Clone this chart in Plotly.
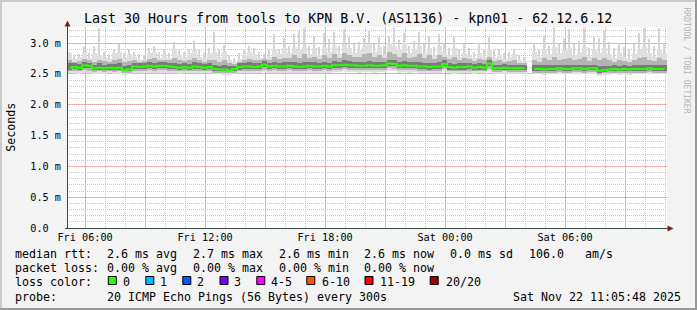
import math
import plotly.graph_objects as go
from datetime import datetime, timedelta

# ---------------- data (milliseconds), 15-minute bins over 30 hours ----------------
start = datetime(2025, 11, 21, 5, 5, 48)
end = start + timedelta(hours=30)
step_minutes = 15

median = [
    2.60, 2.61, 2.60, 2.64, 2.63, 2.59, 2.60, 2.59, 2.60, 2.59, 2.60, 2.56, 2.57, 2.62, 2.61, 2.62, 2.63, 2.62, 2.63, 2.63,
    2.62, 2.61, 2.60, 2.61, 2.60, 2.62, 2.61, 2.60, 2.61, 2.58, 2.57, 2.57, 2.56, 2.58, 2.61, 2.62, 2.62, 2.61, 2.62, 2.65,
    2.62, 2.63, 2.62, 2.62, 2.63, 2.62, 2.61, 2.62, 2.63, 2.62, 2.62, 2.63, 2.62, 2.64, 2.64, 2.65, 2.64, 2.64, 2.63, 2.63,
    2.64, 2.63, 2.63, 2.64, 2.67, 2.66, 2.63, 2.64, 2.63, 2.63, 2.62, 2.62, 2.61, 2.62, 2.62, 2.66, 2.61, 2.60, 2.61, 2.61,
    2.62, 2.60, 2.61, 2.60, 2.67, 2.59, 2.59, 2.60, 2.59, 2.59, 2.59, 2.59, None, 2.58, 2.58, 2.57, 2.58, 2.58, 2.59, 2.58,
    2.58, 2.59, 2.59, 2.58, 2.59, 2.59, 2.55, 2.56, 2.57, 2.58, 2.57, 2.58, 2.57, 2.58, 2.58, 2.58, 2.59, 2.58, 2.58, 2.58,
]
ping_max = [
    2.86, 2.80, 2.82, 2.93, 2.84, 2.95, 3.25, 2.86, 2.83, 2.90, 2.99, 2.84, 2.90, 2.86, 2.82, 2.80, 2.92, 2.96, 2.85, 2.90,
    2.84, 3.02, 2.88, 2.86, 2.90, 3.04, 2.88, 2.84, 2.92, 3.18, 2.90, 2.97, 2.80, 2.76, 2.84, 2.88, 2.95, 2.92, 2.85, 2.82,
    2.88, 3.15, 2.90, 3.08, 2.95, 3.14, 3.20, 3.24, 2.96, 3.12, 2.94, 3.16, 3.06, 3.18, 2.96, 3.22, 3.10, 2.98, 3.02, 3.08,
    3.20, 2.98, 3.10, 2.95, 3.12, 3.24, 3.05, 3.16, 2.96, 3.04, 3.18, 2.98, 3.12, 2.94, 3.14, 3.00, 2.92, 3.10, 2.90, 2.98,
    2.92, 2.86, 3.00, 2.90, 3.10, 2.88, 2.90, 2.84, 2.86, 2.90, 2.80, 2.78, None, 3.00, 2.90, 3.12, 2.96, 3.24, 2.98, 3.06,
    3.22, 2.98, 3.04, 3.25, 2.92, 3.10, 3.08, 3.20, 3.02, 2.92, 3.00, 2.94, 2.90, 2.98, 3.16, 3.25, 3.06, 2.96, 3.24, 3.00,
]
ping_outer = [
    2.84, 2.74, 2.78, 2.86, 2.76, 2.84, 2.80, 2.76, 2.74, 2.84, 2.86, 2.76, 2.82, 2.78, 2.74, 2.72, 2.84, 2.86, 2.76, 2.82,
    2.76, 2.90, 2.80, 2.76, 2.84, 2.88, 2.78, 2.75, 2.84, 2.86, 2.78, 2.86, 2.72, 2.70, 2.74, 2.80, 2.86, 2.82, 2.76, 2.74,
    2.78, 2.90, 2.82, 2.92, 2.84, 2.94, 2.88, 2.96, 2.82, 2.92, 2.80, 2.94, 2.86, 2.96, 2.82, 2.98, 2.92, 2.84, 2.88, 2.96,
    2.98, 2.86, 2.94, 2.82, 3.00, 2.96, 2.90, 3.00, 2.84, 2.90, 2.96, 2.84, 2.92, 2.80, 2.96, 2.86, 2.80, 2.92, 2.78, 2.84,
    2.80, 2.76, 2.84, 2.78, 2.90, 2.76, 2.80, 2.74, 2.78, 2.82, 2.72, 2.70, None, 2.86, 2.78, 2.90, 2.82, 2.94, 2.84, 2.88,
    2.92, 2.80, 2.86, 2.94, 2.78, 2.90, 2.84, 2.92, 2.82, 2.76, 2.84, 2.78, 2.74, 2.82, 2.90, 2.94, 2.84, 2.78, 2.90, 2.82,
]
ping_up = [
    2.72, 2.70, 2.71, 2.74, 2.72, 2.70, 2.73, 2.71, 2.70, 2.72, 2.74, 2.70, 2.71, 2.72, 2.70, 2.71, 2.74, 2.75, 2.72, 2.73,
    2.72, 2.76, 2.72, 2.71, 2.72, 2.75, 2.72, 2.70, 2.72, 2.73, 2.70, 2.72, 2.68, 2.66, 2.70, 2.72, 2.74, 2.73, 2.72, 2.74,
    2.73, 2.78, 2.74, 2.76, 2.75, 2.80, 2.76, 2.82, 2.75, 2.78, 2.74, 2.80, 2.76, 2.82, 2.76, 2.84, 2.80, 2.77, 2.78, 2.82,
    2.84, 2.78, 2.80, 2.76, 2.86, 2.82, 2.78, 2.84, 2.76, 2.78, 2.82, 2.76, 2.80, 2.74, 2.80, 2.78, 2.74, 2.78, 2.72, 2.75,
    2.74, 2.71, 2.74, 2.72, 2.78, 2.71, 2.72, 2.70, 2.71, 2.72, 2.68, 2.67, None, 2.72, 2.70, 2.75, 2.72, 2.78, 2.73, 2.74,
    2.76, 2.72, 2.74, 2.78, 2.71, 2.75, 2.72, 2.76, 2.72, 2.70, 2.72, 2.71, 2.69, 2.72, 2.75, 2.78, 2.73, 2.71, 2.75, 2.72,
]
ping_hi = [
    2.67, 2.67, 2.66, 2.69, 2.68, 2.65, 2.67, 2.65, 2.66, 2.66, 2.67, 2.63, 2.64, 2.68, 2.67, 2.68, 2.69, 2.68, 2.69, 2.69,
    2.68, 2.68, 2.66, 2.67, 2.66, 2.69, 2.67, 2.66, 2.67, 2.65, 2.63, 2.64, 2.62, 2.63, 2.67, 2.68, 2.69, 2.67, 2.68, 2.71,
    2.68, 2.70, 2.68, 2.69, 2.69, 2.70, 2.68, 2.70, 2.70, 2.69, 2.68, 2.70, 2.68, 2.71, 2.70, 2.72, 2.71, 2.70, 2.69, 2.70,
    2.71, 2.69, 2.70, 2.70, 2.73, 2.72, 2.69, 2.71, 2.69, 2.69, 2.69, 2.68, 2.67, 2.68, 2.69, 2.72, 2.67, 2.66, 2.67, 2.67,
    2.68, 2.66, 2.67, 2.66, 2.72, 2.65, 2.65, 2.66, 2.65, 2.65, 2.64, 2.64, None, 2.64, 2.64, 2.64, 2.64, 2.65, 2.65, 2.64,
    2.65, 2.65, 2.65, 2.65, 2.65, 2.65, 2.62, 2.63, 2.63, 2.64, 2.63, 2.64, 2.63, 2.64, 2.64, 2.65, 2.65, 2.64, 2.65, 2.64,
]
ping_lo2 = [
    2.57, 2.58, 2.57, 2.60, 2.59, 2.56, 2.57, 2.56, 2.57, 2.56, 2.57, 2.54, 2.55, 2.58, 2.58, 2.58, 2.59, 2.58, 2.59, 2.59,
    2.58, 2.58, 2.57, 2.58, 2.57, 2.58, 2.58, 2.57, 2.58, 2.55, 2.54, 2.55, 2.54, 2.55, 2.57, 2.58, 2.58, 2.58, 2.58, 2.61,
    2.58, 2.59, 2.58, 2.58, 2.59, 2.58, 2.58, 2.58, 2.59, 2.58, 2.58, 2.59, 2.58, 2.60, 2.60, 2.61, 2.60, 2.60, 2.59, 2.59,
    2.60, 2.59, 2.59, 2.60, 2.63, 2.62, 2.59, 2.60, 2.59, 2.59, 2.58, 2.58, 2.57, 2.58, 2.58, 2.62, 2.57, 2.57, 2.57, 2.57,
    2.58, 2.57, 2.57, 2.57, 2.62, 2.56, 2.56, 2.57, 2.56, 2.56, 2.56, 2.56, None, 2.55, 2.55, 2.54, 2.55, 2.55, 2.56, 2.55,
    2.55, 2.56, 2.56, 2.55, 2.56, 2.56, 2.52, 2.53, 2.54, 2.55, 2.54, 2.55, 2.54, 2.55, 2.55, 2.55, 2.56, 2.55, 2.55, 2.55,
]
ping_lo = [
    2.54, 2.55, 2.54, 2.56, 2.55, 2.53, 2.54, 2.53, 2.54, 2.53, 2.54, 2.51, 2.52, 2.55, 2.55, 2.55, 2.56, 2.55, 2.56, 2.56,
    2.55, 2.55, 2.54, 2.55, 2.54, 2.55, 2.55, 2.54, 2.55, 2.52, 2.52, 2.52, 2.51, 2.52, 2.54, 2.55, 2.55, 2.55, 2.55, 2.57,
    2.55, 2.56, 2.55, 2.55, 2.56, 2.55, 2.55, 2.55, 2.56, 2.55, 2.55, 2.56, 2.55, 2.57, 2.57, 2.58, 2.57, 2.57, 2.56, 2.56,
    2.57, 2.56, 2.56, 2.57, 2.59, 2.58, 2.56, 2.57, 2.56, 2.56, 2.55, 2.55, 2.54, 2.55, 2.55, 2.58, 2.54, 2.54, 2.54, 2.54,
    2.55, 2.54, 2.54, 2.54, 2.58, 2.53, 2.53, 2.54, 2.53, 2.53, 2.53, 2.53, None, 2.52, 2.52, 2.51, 2.52, 2.52, 2.53, 2.52,
    2.52, 2.53, 2.53, 2.52, 2.53, 2.53, 2.50, 2.51, 2.51, 2.52, 2.51, 2.52, 2.51, 2.52, 2.52, 2.52, 2.53, 2.52, 2.52, 2.52,
]
ping_min = [
    2.51, 2.52, 2.50, 2.52, 2.51, 2.49, 2.50, 2.49, 2.51, 2.50, 2.50, 2.48, 2.49, 2.51, 2.52, 2.51, 2.52, 2.51, 2.52, 2.52,
    2.52, 2.51, 2.50, 2.52, 2.51, 2.51, 2.52, 2.51, 2.51, 2.49, 2.49, 2.48, 2.48, 2.49, 2.51, 2.52, 2.51, 2.52, 2.51, 2.53,
    2.52, 2.52, 2.51, 2.52, 2.52, 2.51, 2.52, 2.51, 2.52, 2.52, 2.51, 2.52, 2.52, 2.53, 2.53, 2.54, 2.53, 2.53, 2.52, 2.53,
    2.53, 2.52, 2.53, 2.53, 2.55, 2.54, 2.52, 2.53, 2.52, 2.53, 2.52, 2.51, 2.51, 2.52, 2.51, 2.54, 2.51, 2.50, 2.51, 2.51,
    2.51, 2.50, 2.51, 2.50, 2.54, 2.50, 2.49, 2.50, 2.50, 2.49, 2.50, 2.50, None, 2.49, 2.49, 2.48, 2.49, 2.49, 2.50, 2.49,
    2.49, 2.50, 2.50, 2.49, 2.50, 2.50, 2.47, 2.48, 2.48, 2.49, 2.48, 2.49, 2.48, 2.49, 2.49, 2.49, 2.50, 2.49, 2.49, 2.49,
]

x_tick_labels = ["Fri 06:00", "", "Fri 12:00", "", "Fri 18:00", "", "Sat 00:00", "", "Sat 06:00", ""]
y_tick_values = [0.0, 0.5, 1.0, 1.5, 2.0, 2.5, 3.0]
y_tick_labels = ["0.0\u00a0\u00a0", "0.5 m", "1.0 m", "1.5 m", "2.0 m", "2.5 m", "3.0 m"]

title_text = "Last 30 Hours from tools to KPN B.V. (AS1136) - kpn01 - 62.12.6.12"
rtt_items = ["median rtt:", "2.6 ms avg", "2.7 ms max", "2.6 ms min", "2.6 ms now", "0.0 ms sd", "106.0\u00a0\u00a0\u00a0am/s"]
loss_items = ["packet loss:", "0.00 % avg", "0.00 % max", "0.00 % min", "0.00 % now"]
loss_labels = ["0", "1", "2", "3", "4-5", "6-10", "11-19", "20/20"]
loss_colors = ["#26ff00", "#00b8ff", "#0059ff", "#7e00ff", "#ff00ff", "#ff5500", "#ff0000", "#a10000"]
probe_text = "20 ICMP Echo Pings (56 Bytes) every 300s"
stamp_text = "Sat Nov 22 11:05:48 2025"

# ---------------- geometry ----------------
W, H = 697, 310
PL, PR, PT, PB = 67, 667, 27, 228
PX_PER_MS = 61.65
YMAX = (PB - PT) / PX_PER_MS
SPAN_S = (end - start).total_seconds()


def fx(px):
    return (px - PL) / (PR - PL)


def fy(py):
    return (PB - py) / (PB - PT)


def time_px(t):
    return PL + (t - start).total_seconds() / SPAN_S * (PR - PL)


def value_px(v):
    return PB - v / YMAX * (PB - PT)


MONO = "DejaVu Sans Mono"
n = len(median)
step = timedelta(minutes=step_minutes)
centers = [start + step * (i + 0.5) for i in range(n)]
bin_ms = step.total_seconds() * 1000


def band(lo, hi):
    base, h = [], []
    for a, b in zip(lo, hi):
        if a is None or b is None:
            base.append(None)
            h.append(None)
        else:
            base.append(a)
            h.append(round(b - a, 4))
    return base, h


fig = go.Figure()


def add_band(lo, hi, color, width_frac):
    base, h = band(lo, hi)
    fig.add_trace(go.Bar(x=centers, y=h, base=base, width=bin_ms * width_frac,
                         marker=dict(color=color, line=dict(width=0)), opacity=1,
                         hoverinfo="skip", showlegend=False))


add_band(ping_min, ping_max, "#d4d4d4", 0.3)
add_band(ping_min, ping_outer, "#dfdfdf", 1.0)
add_band(ping_lo, ping_up, "#b4b4b4", 1.0)
add_band(ping_lo2, ping_hi, "#7a7a7a", 1.0)

fig.add_trace(go.Scatter(x=centers, y=median, mode="lines",
                         line=dict(color=loss_colors[0], width=2, shape="hvh"),
                         connectgaps=False, hoverinfo="skip", showlegend=False))

# grid positions: major every 3 h / 0.5 ms (red), minor every 1 h / 0.1 ms (grey)
grid_origin = datetime(2025, 11, 21, 6)
major_ticks = [grid_origin + timedelta(hours=3 * k) for k in range(len(x_tick_labels))]
hour_lines = [grid_origin + timedelta(hours=h) for h in range(-1, 30)]
hour_lines = [t for t in hour_lines if start < t < end]
tenth_lines = [k / 10 for k in range(1, 33) if k / 10 < YMAX]

GRID_MAJOR = "rgba(240,90,90,0.5)"
GRID_MINOR = "#c6c6c6"

fig.update_layout(
    width=W, height=H,
    margin=dict(l=PL, r=W - PR, t=PT, b=H - PB, pad=0),
    paper_bgcolor="#f3f3f3", plot_bgcolor="#ffffff",
    barmode="overlay", bargap=0,
    showlegend=False,
    font=dict(family=MONO, color="#000000"),
    xaxis=dict(
        type="date", range=[start, end], fixedrange=True,
        tickvals=major_ticks, ticktext=x_tick_labels,
        tickfont=dict(family=MONO, size=10.2, color="#000000"),
        ticks="", showline=False, zeroline=False, showgrid=False,
        ticklabelstandoff=2,
    ),
    yaxis=dict(
        range=[0, YMAX], fixedrange=True,
        tickvals=y_tick_values, ticktext=y_tick_labels,
        tickfont=dict(family=MONO, size=10.2, color="#000000"),
        ticks="", showline=False, zeroline=False, showgrid=False,
        ticklabelstandoff=5,
    ),
)

shapes = []
# grid (drawn under the data): grey dotted minor lines, light-red major lines
for t in hour_lines:
    x = math.floor(time_px(t)) + 0.5
    is_major = ((t - grid_origin).total_seconds() / 3600) % 3 == 0
    if is_major:
        line = dict(color=GRID_MAJOR, width=1, dash="solid")
    else:
        line = dict(color=GRID_MINOR, width=1, dash="1px,1px")
    shapes.append(dict(type="line", xref="paper", yref="paper", x0=fx(x), x1=fx(x), y0=fy(PB), y1=fy(PT),
                       line=line, layer="below"))
for k, v in enumerate(tenth_lines, start=1):
    y = math.floor(value_px(v)) + 0.5
    if k % 5 == 0:
        line = dict(color=GRID_MAJOR, width=1, dash="solid")
    else:
        line = dict(color=GRID_MINOR, width=1, dash="1px,1px")
    shapes.append(dict(type="line", xref="paper", yref="paper", x0=fx(PL), x1=fx(PR), y0=fy(y), y1=fy(y),
                       line=line, layer="below"))

# frame (3D border)
shapes.append(dict(type="rect", xref="paper", yref="paper", x0=fx(0), x1=fx(W), y0=fy(0), y1=fy(2),
                   fillcolor="#cbcbcb", line=dict(width=0), layer="above"))
shapes.append(dict(type="rect", xref="paper", yref="paper", x0=fx(0), x1=fx(2), y0=fy(0), y1=fy(H),
                   fillcolor="#cbcbcb", line=dict(width=0), layer="above"))
shapes.append(dict(type="rect", xref="paper", yref="paper", x0=fx(0), x1=fx(W), y0=fy(H - 2), y1=fy(H),
                   fillcolor="#999999", line=dict(width=0), layer="above"))
shapes.append(dict(type="rect", xref="paper", yref="paper", x0=fx(W - 2), x1=fx(W), y0=fy(0), y1=fy(H),
                   fillcolor="#999999", line=dict(width=0), layer="above"))
# axes
AXIS = "#3a4a44"
ARROW = "#7f1f1f"
shapes.append(dict(type="line", xref="paper", yref="paper", x0=fx(67.5), x1=fx(67.5), y0=fy(228), y1=fy(25),
                   line=dict(color=AXIS, width=1), layer="above"))
shapes.append(dict(type="line", xref="paper", yref="paper", x0=fx(65), x1=fx(669), y0=fy(228.5), y1=fy(228.5),
                   line=dict(color=AXIS, width=1), layer="above"))
shapes.append(dict(type="path", xref="paper", yref="paper",
                   path=f"M {fx(64.5)} {fy(26.5)} L {fx(70.5)} {fy(26.5)} L {fx(67.5)} {fy(20.5)} Z",
                   fillcolor=ARROW, line=dict(width=0), layer="above"))
shapes.append(dict(type="path", xref="paper", yref="paper",
                   path=f"M {fx(667.5)} {fy(225.5)} L {fx(667.5)} {fy(231.5)} L {fx(673.5)} {fy(228.5)} Z",
                   fillcolor=ARROW, line=dict(width=0), layer="above"))

annotations = []


def text(t, x, y, size=11.63, xanchor="left", color="#000000", angle=0):
    annotations.append(dict(text=t, xref="paper", yref="paper", x=fx(x), y=fy(y),
                            xanchor=xanchor, yanchor="middle", showarrow=False,
                            textangle=angle, borderpad=0, borderwidth=0,
                            font=dict(family=MONO, size=size, color=color)))


text(title_text, 347.5, 19, size=13.3, xanchor="center")
text("Seconds", 10.3, 127.5, xanchor="center", angle=-90)
text("RRDTOOL / TOBI OETIKER", 686.5, 60, size=8.0, xanchor="center", color="#b4b4b4", angle=90)

rtt_x = [15.3, 106.6, 192.6, 278.6, 364.4, 450.4, 529.4]
for t, x in zip(rtt_items, rtt_x):
    text(t, x, 254)
loss_x = [15.3, 106.6, 192.6, 278.6, 364.4]
for t, x in zip(loss_items, loss_x):
    text(t, x, 268.3)
text("loss color:", 15.3, 281.7)
sq_x = [108.3, 145.8, 182.8, 220.0, 256.8, 306.8, 365.0, 430.2]
lab_x = [122.6, 160.0, 196.6, 233.6, 270.6, 321.6, 380.4, 445.6]
for lab, col, sx, lx in zip(loss_labels, loss_colors, sq_x, lab_x):
    shapes.append(dict(type="rect", xref="paper", yref="paper", x0=fx(sx), x1=fx(sx + 8), y0=fy(276.5), y1=fy(284.5),
                       fillcolor=col, line=dict(color="#000000", width=1), layer="above"))
    text(lab, lx, 281.7)
text("probe:", 15.3, 296.7)
text(probe_text, 106.6, 296.7)
text(stamp_text, 512.6, 296.7)

fig.update_layout(shapes=shapes, annotations=annotations)
fig.write_html("out.html")
